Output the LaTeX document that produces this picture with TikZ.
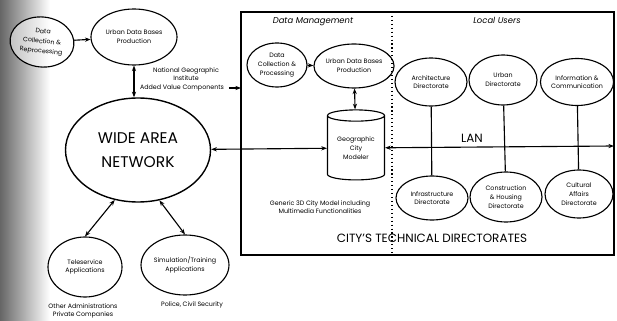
\documentclass[tikz,border=0pt]{standalone}
\usepackage{fontspec}
\setmainfont{Poppins}
\usetikzlibrary{shapes.geometric,arrows.meta}

\begin{document}
\begin{tikzpicture}[
x=0.025cm, y=-0.025cm,
dims/.style 2 args={minimum width=#1*0.025cm, minimum height=#2*0.025cm},
bubble/.style={ellipse, draw=black, thick, inner sep=0pt, align=center, font=\fontsize{4.5}{6.2}\selectfont},
bigbubble/.style={ellipse, draw=black, line width=1pt, inner sep=0pt, align=center, font=\fontsize{11}{17}\selectfont},
note/.style={align=center, font=\fontsize{4.5}{6.2}\selectfont},
heading/.style={font=\fontsize{6}{7}\selectfont\itshape},
caps/.style={font=\fontsize{8.5}{10}\selectfont},
link/.style={thick, {Stealth[length=4pt,width=3pt]}-{Stealth[length=4pt,width=3pt]}},
onearrow/.style={thick, -{Stealth[length=4pt,width=3pt]}},
]
\useasboundingbox (0,0) rectangle (617,321);
% binding shadow on the left
\shade[left color=black!60, right color=white] (0,0) rectangle (50,321);

% wide area network side
\node (dcr) [bubble, dims={64}{50}, rotate=-6, fill=white, fill opacity=0.5, text opacity=1, font=\fontsize{4.5}{7}\selectfont] at (42,42) {Data\\Collection \&\\Reprocessing};
\node (udp) [bubble, dims={86}{56}] at (134,37) {Urban Data Bases\\Production};
\node (wan) [bigbubble, dims={145}{104}] at (138,150) {WIDE AREA\\NETWORK};
\node (tele) [bubble, dims={74}{60}] at (85,267) {Teleservice\\Applications};
\node (sim) [bubble, dims={74}{60}] at (185,265) {Simulation/Training\\Applications};
\node (oapc) [note] at (83,311) {Other Administrations\\Private Companies};
\node (pcs) [note] at (192,305) {Police, Civil Security};
\node (ngi) [note] at (186,74) {National Geographic\\Institute};
\node (avc) [note] at (182,88) {Added Value Components};

\draw[onearrow] (dcr) -- (udp);
\draw[link] (udp.south) -- (wan.north -| udp.south);
\draw[link] (wan.245) -- (tele.north);
\draw[link] (wan.293) -- (sim.north);

% technical directorates frame
\draw[line width=1pt] (241,12) rectangle (614,255);
\draw[thick, dotted] (392,12) -- (392,255);
\coordinate (boxw) at (241,88);
\coordinate (lanend) at (614,146);
\draw[onearrow] (avc.east) -- (avc.east -| boxw);

% data management
\node (dmt) [heading] at (313,22) {Data Management};
\node (dcp) [bubble, dims={60}{44}] at (277,65) {Data\\Collection \&\\Processing};
\node (udb) [bubble, dims={64}{44}] at (354,66) {Urban Data Bases\\Production};
\node (gcm) [cylinder, shape border rotate=90, draw=black, thick, aspect=0.3, minimum width=1.425cm, minimum height=1.75cm, inner sep=0pt, align=center, font=\fontsize{4.5}{6.2}\selectfont] at (356,148) {Geographic\\City\\Modeler};
\node (gen) [note] at (320,207) {Generic 3D City Model including\\Multimedia Functionalities};

\draw[onearrow] (dcp) -- (udb);
\draw[link] (udb) -- (gcm);
\draw[link] (wan) -- (gcm);

% local users
\node (lut) [heading] at (497,20) {Local Users};
\node (ad) [bubble, dims={72}{48}] at (431,82) {Architecture\\Directorate};
\node (ud) [bubble, dims={68}{50}] at (503,80) {Urban\\Directorate};
\node (ic) [bubble, dims={70}{47}] at (577,82) {Information \&\\Communication};
\node (id) [bubble, dims={72}{44}] at (432,198) {Infrastructure\\Directorate};
\node (ch) [bubble, dims={72}{50}] at (506,197) {Construction\\\& Housing\\Directorate};
\node (ca) [bubble, dims={68}{48}] at (579,194) {Cultural\\Affairs\\Directorate};

\draw[thick] (ad) -- (id);
\draw[thick] (ud) -- (ch);
\draw[thick] (ic) -- (ca);
\draw[link] (gcm) -- (lanend);
\node (lan) [caps] at (472,138) {LAN};
\node (ctd) [caps] at (432,238) {CITY'S TECHNICAL DIRECTORATES};
\end{tikzpicture}
\end{document}
